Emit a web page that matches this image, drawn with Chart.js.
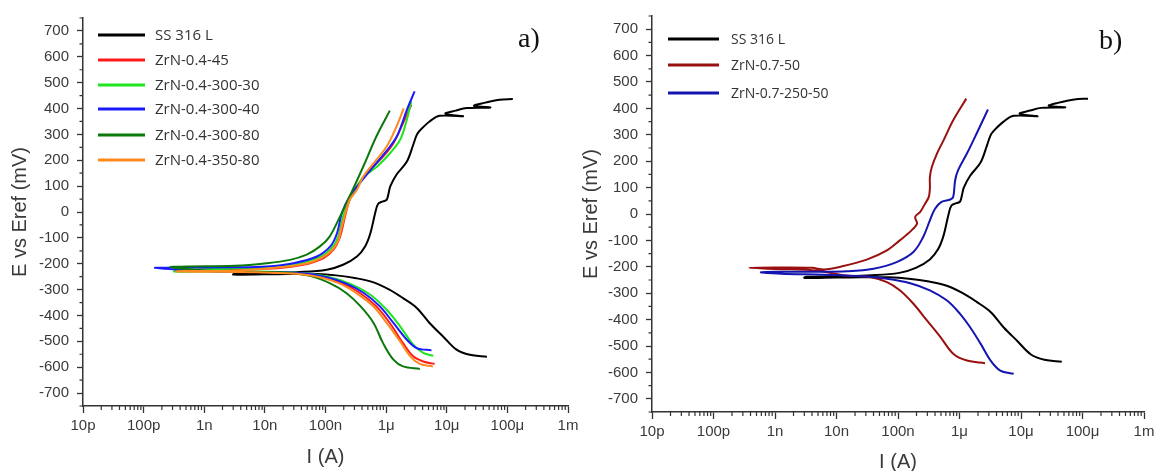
<!DOCTYPE html>
<html>
<head>
<meta charset="utf-8">
<script src="https://cdn.jsdelivr.net/npm/chart.js@4.4.1/dist/chart.umd.min.js"></script>
<style>
  html, body { margin: 0; padding: 0; background: #fff; overflow: hidden; width: 1157px; height: 471px; }
  .panel { position: absolute; top: 0; }
  #pa { left: 0; width: 600px; height: 471px; }
  #pb { left: 578px; width: 579px; height: 476px; }
  .tag { position: absolute; font-family: "Liberation Serif", serif; font-size: 28px; color: #111; line-height: 1; }
</style>
</head>
<body>
<div class="panel" id="pa"><canvas id="chartA"></canvas></div>
<div class="panel" id="pb"><canvas id="chartB"></canvas></div>
<div class="tag" style="left:518px;top:24px">a)</div>
<div class="tag" style="left:1099px;top:26px">b)</div>
<script>
// axis ticks
const decadeValues = [1e-11, 1e-10, 1e-9, 1e-8, 1e-7, 1e-6, 1e-5, 1e-4, 1e-3];
const decadeLabels = ['10p', '100p', '1n', '10n', '100n', '1μ', '10μ', '100μ', '1m'];
const minorMultipliers = [2, 3, 4, 5, 6, 7, 8, 9];
const yLabelTicks = [-700, -600, -500, -400, -300, -200, -100, 0, 100, 200, 300, 400, 500, 600, 700];
const yMinorTicks = [-750, -650, -550, -450, -350, -250, -150, -50, 50, 150, 250, 350, 450, 550, 650, 750];

// current (A) and potential (mV), cathodic end -> Ecorr -> anodic end
const ss316_I = [4.6e-5, 2.4e-5, 1.45e-5, 8.7e-6, 5.2e-6, 3.2e-6, 1.9e-6, 1.15e-6, 6.2e-7, 3.2e-7, 1.5e-7, 7.1e-8, 2.5e-8, 1.0e-8, 3.0e-9,
  3.2e-9, 1.0e-8, 3.8e-8, 1.05e-7, 1.95e-7, 3.3e-7, 4.5e-7, 5.5e-7, 6.6e-7, 7.4e-7, 8.9e-7, 1.02e-6, 1.1e-6, 1.17e-6, 1.48e-6,
  2.2e-6, 2.8e-6, 3.2e-6, 3.6e-6, 5.2e-6, 7.6e-6, 1.86e-5, 9.5e-6, 1.41e-5, 2.14e-5, 5.25e-5, 2.82e-5, 3.98e-5, 7.4e-5, 1.23e-4];
const ss316_E = [-560, -552, -532, -481, -429, -371, -333, -301, -272, -256, -245, -240, -240, -241, -242,
  -238, -236, -232, -223, -204, -172, -133, -82, -4, 32, 41, 47, 73, 99, 144,
  195, 260, 298, 315, 350, 372, 370, 380, 392, 402, 404, 410, 421, 434, 437];

const zr045_I = [6.3e-6, 4.1e-6, 2.8e-6, 1.9e-6, 1.15e-6, 6.9e-7, 3.7e-7, 1.95e-7, 9.1e-8, 3.8e-8, 1.0e-8, 2.5e-9, 8.0e-10,
  8.0e-10, 3.2e-9, 1.6e-8, 4.3e-8, 9.3e-8, 1.35e-7, 1.74e-7, 2.1e-7, 2.5e-7, 3.3e-7, 5.4e-7, 8.9e-7, 1.32e-6, 1.9e-6, 2.6e-6];
const zr045_E = [-587, -578, -558, -507, -429, -365, -313, -277, -252, -239, -233, -230, -226,
  -222, -221, -217, -204, -178, -146, -95, -17, 47, 99, 163, 214, 266, 343, 414];

const zr0430030_I = [6.0e-6, 4.1e-6, 2.8e-6, 1.7e-6, 1.02e-6, 5.5e-7, 2.5e-7, 1.05e-7, 3.8e-8, 1.0e-8, 1.6e-9, 3.2e-10,
  5.0e-10, 3.2e-9, 1.23e-8, 3.4e-8, 8.1e-8, 1.26e-7, 1.62e-7, 1.95e-7, 2.5e-7, 3.3e-7, 4.3e-7, 7.1e-7, 1.17e-6, 1.7e-6, 2.1e-6, 2.6e-6];
const zr0430030_E = [-556, -545, -513, -442, -378, -320, -277, -249, -236, -231, -230, -230,
  -224, -218, -213, -200, -174, -140, -95, -17, 47, 99, 137, 176, 228, 279, 340, 427];

const zr0430040_I = [5.6e-6, 3.2e-6, 2.2e-6, 1.32e-6, 7.9e-7, 4.3e-7, 2.2e-7, 1.05e-7, 3.8e-8, 1.0e-8, 1.0e-9, 1.55e-10,
  3.2e-10, 3.2e-9, 1.07e-8, 2.95e-8, 7.2e-8, 1.2e-7, 1.55e-7, 1.86e-7, 2.5e-7, 3.7e-7, 6.2e-7, 1.05e-6, 1.5e-6, 1.82e-6, 2.2e-6, 2.95e-6];
const zr0430040_E = [-535, -526, -494, -429, -365, -313, -277, -252, -236, -232, -228, -216,
  -215, -214, -211, -198, -172, -133, -82, -4, 60, 112, 176, 240, 292, 340, 395, 466];

const zr0430080_I = [3.6e-6, 1.9e-6, 1.32e-6, 8.9e-7, 6.2e-7, 3.8e-7, 2.2e-7, 1.17e-7, 5.5e-8, 2.0e-8, 5.0e-9, 1.0e-9, 2.8e-10,
  5.0e-10, 3.2e-9, 1.07e-8, 2.6e-8, 4.9e-8, 8.1e-8, 1.17e-7, 1.74e-7, 2.5e-7, 4.2e-7, 6.9e-7, 1.15e-6];
const zr0430080_E = [-607, -597, -571, -507, -429, -365, -313, -275, -247, -234, -230, -226, -213,
  -211, -208, -198, -185, -165, -133, -95, -17, 60, 176, 292, 392];

const zr0435080_I = [5.9e-6, 3.6e-6, 2.5e-6, 1.7e-6, 1.02e-6, 6.2e-7, 3.2e-7, 1.74e-7, 8.1e-8, 3.4e-8, 1.0e-8, 1.6e-9, 3.5e-10,
  6.3e-10, 3.2e-9, 2.0e-8, 5.6e-8, 1.05e-7, 1.55e-7, 1.86e-7, 2.2e-7, 2.5e-7, 3.3e-7, 4.2e-7, 6.9e-7, 1.02e-6, 1.48e-6, 1.95e-6];
const zr0435080_E = [-597, -587, -558, -500, -429, -365, -313, -277, -252, -239, -234, -231, -230,
  -228, -227, -213, -195, -165, -120, -56, 8, 47, 86, 137, 202, 253, 330, 401];

const zr0750_I = [2.6e-6, 1.32e-6, 7.9e-7, 4.9e-7, 2.95e-7, 1.78e-7, 1.07e-7, 6.6e-8, 3.5e-8, 1.26e-8, 5.0e-9, 1.0e-9, 3.8e-10,
  1.0e-9, 4.0e-9, 6.3e-9, 1.15e-8, 3.1e-8, 6.6e-8, 1.07e-7, 1.66e-7, 2.04e-7, 1.9e-7, 2.3e-7, 2.75e-7, 3.16e-7, 3.3e-7, 3.3e-7,
  3.55e-7, 4.3e-7, 5.5e-7, 7.9e-7, 1.29e-6];
const zr0750_E = [-565, -555, -529, -466, -403, -340, -289, -258, -239, -232, -215, -208, -204,
  -203, -204, -210, -200, -173, -138, -100, -62, -36, -11, 8, 39, 64, 96, 140,
  178, 229, 279, 355, 437];

const zr0725050_I = [7.6e-6, 4.6e-6, 3.2e-6, 2.2e-6, 1.48e-6, 1.02e-6, 6.2e-7, 3.3e-7, 1.58e-7, 6.6e-8, 2.75e-8, 6.3e-9, 1.26e-9, 5.9e-10,
  1.0e-9, 5.0e-9, 1.48e-8, 4.0e-8, 9.5e-8, 1.78e-7, 2.57e-7, 3.3e-7, 4.0e-7, 5.1e-7, 7.1e-7, 7.9e-7, 8.5e-7, 9.5e-7, 1.32e-6, 1.9e-6, 2.9e-6];
const zr0725050_E = [-605, -593, -555, -491, -428, -378, -327, -289, -262, -245, -236, -230, -226, -221,
  -219, -219, -217, -207, -182, -144, -87, -24, 20, 46, 55, 64, 128, 166, 229, 305, 396];

const seriesA = [
  { label: 'SS 316 L', I: ss316_I, E: ss316_E, color: '#000000' },
  { label: 'ZrN-0.4-45', I: zr045_I, E: zr045_E, color: '#ff1a1a' },
  { label: 'ZrN-0.4-300-30', I: zr0430030_I, E: zr0430030_E, color: '#1ee61e' },
  { label: 'ZrN-0.4-300-40', I: zr0430040_I, E: zr0430040_E, color: '#1a1aff' },
  { label: 'ZrN-0.4-300-80', I: zr0430080_I, E: zr0430080_E, color: '#0b780b' },
  { label: 'ZrN-0.4-350-80', I: zr0435080_I, E: zr0435080_E, color: '#ff8a1f' }
];
const seriesB = [
  { label: 'SS 316 L', I: ss316_I, E: ss316_E, color: '#000000' },
  { label: 'ZrN-0.7-50', I: zr0750_I, E: zr0750_E, color: '#9a1010' },
  { label: 'ZrN-0.7-250-50', I: zr0725050_I, E: zr0725050_E, color: '#1414b0' }
];

const axisColor = '#333333';
const labelColor = '#3a3a3a';

const isDecade = v => decadeValues.some(d => Math.abs(v / d - 1) < 1e-6);
const isLabelY = v => yLabelTicks.includes(v);

// short minor ticks, drawn from the scales
const minorTickPlugin = {
  id: 'minorTicks',
  afterDraw(chart) {
    const ctx = chart.ctx, xs = chart.scales.x, ys = chart.scales.y;
    ctx.save();
    ctx.strokeStyle = axisColor;
    ctx.lineWidth = 1.2;
    ctx.beginPath();
    xs.ticks.forEach(t => {
      if (!isDecade(t.value)) {
        const px = xs.getPixelForValue(t.value);
        ctx.moveTo(px, xs.top);
        ctx.lineTo(px, xs.top + 4);
      }
    });
    ys.ticks.forEach(t => {
      if (!isLabelY(t.value)) {
        const py = ys.getPixelForValue(t.value);
        ctx.moveTo(ys.right - 3.5, py);
        ctx.lineTo(ys.right, py);
      }
    });
    ctx.stroke();
    ctx.restore();
  }
};

// legend inside the plot, as in the figure
const insideLegendPlugin = {
  id: 'insideLegend',
  afterDraw(chart, args, opts) {
    const ctx = chart.ctx;
    ctx.save();
    ctx.font = opts.font;
    ctx.textBaseline = 'middle';
    chart.data.datasets.forEach((ds, i) => {
      const y = opts.rows[i];
      ctx.strokeStyle = ds.borderColor;
      ctx.lineWidth = 3;
      ctx.beginPath();
      ctx.moveTo(opts.x0, y);
      ctx.lineTo(opts.x1, y);
      ctx.stroke();
      ctx.fillStyle = '#333';
      ctx.fillText(ds.label, opts.textX, y + 1);
    });
    ctx.restore();
  }
};

function buildChart(id, series, cfg) {
  return new Chart(document.getElementById(id), {
    type: 'scatter',
    data: {
      datasets: series.map((s, i) => ({
        label: s.label,
        data: s.I.map((v, k) => ({ x: v, y: s.E[k] })),
        borderColor: s.color,
        backgroundColor: s.color,
        showLine: true,
        pointRadius: 0,
        borderWidth: 2,
        tension: 0.35,
        order: -i
      }))
    },
    options: {
      responsive: true,
      maintainAspectRatio: false,
      animation: false,
      events: [],
      layout: { padding: { left: 0, right: cfg.padRight, top: cfg.padTop, bottom: 0 } },
      plugins: {
        legend: { display: false },
        tooltip: { enabled: false },
        insideLegend: cfg.legend
      },
      scales: {
        x: {
          type: 'logarithmic',
          min: 1e-11,
          max: 1e-3,
          afterBuildTicks(scale) {
            const ticks = [];
            decadeValues.forEach((d, i) => {
              ticks.push({ value: d });
              if (i < decadeValues.length - 1) minorMultipliers.forEach(m => ticks.push({ value: d * m }));
            });
            scale.ticks = ticks;
          },
          afterFit(scale) {
            scale.height = cfg.xHeight;
            scale.paddingLeft = 0;
            scale.paddingRight = 0;
          },
          ticks: {
            autoSkip: false,
            maxRotation: 0,
            padding: 4,
            color: labelColor,
            font: { family: '"Liberation Sans", Arial, sans-serif', size: 15 },
            callback(value) {
              const i = decadeValues.findIndex(d => Math.abs(value / d - 1) < 1e-6);
              return i >= 0 ? decadeLabels[i] : '';
            }
          },
          grid: {
            drawOnChartArea: false,
            drawTicks: true,
            tickLength: 7,
            tickWidth: 1.3,
            tickColor: ctx => (ctx.tick && isDecade(ctx.tick.value)) ? axisColor : 'rgba(0,0,0,0)'
          },
          border: { display: true, color: axisColor, width: 1.5 },
          title: {
            display: true,
            text: 'I (A)',
            color: labelColor,
            font: { family: '"Liberation Sans", Arial, sans-serif', size: 20 },
            padding: { top: 0, bottom: 2 }
          }
        },
        y: {
          type: 'linear',
          min: -750,
          max: 750,
          afterBuildTicks(scale) {
            scale.ticks = yMinorTicks.concat(yLabelTicks).sort((a, b) => a - b).map(v => ({ value: v }));
          },
          afterFit(scale) {
            scale.width = cfg.yWidth;
            scale.paddingTop = 0;
            scale.paddingBottom = 0;
          },
          ticks: {
            autoSkip: false,
            padding: 8,
            color: labelColor,
            font: { family: '"Liberation Sans", Arial, sans-serif', size: 15 },
            callback: value => isLabelY(value) ? String(value) : ''
          },
          grid: {
            drawOnChartArea: false,
            drawTicks: true,
            tickLength: 6,
            tickWidth: 1.3,
            tickColor: ctx => (ctx.tick && isLabelY(ctx.tick.value)) ? axisColor : 'rgba(0,0,0,0)'
          },
          border: { display: true, color: axisColor, width: 1.5 },
          title: {
            display: true,
            text: 'E vs Eref (mV)',
            color: labelColor,
            font: { family: '"Liberation Sans", Arial, sans-serif', size: 20 },
            padding: { top: cfg.yTitlePad, bottom: 0 }
          }
        }
      }
    },
    plugins: [minorTickPlugin, insideLegendPlugin]
  });
}

buildChart('chartA', seriesA, {
  yWidth: 83, xHeight: 65, padTop: 18, padRight: 32, yTitlePad: 8,
  legend: { x0: 98, x1: 145, textX: 155, rows: [35, 60, 85, 109, 135, 160], font: '15px "Open Sans", sans-serif' }
});
buildChart('chartB', seriesB, {
  yWidth: 74, xHeight: 64, padTop: 16, padRight: 13, yTitlePad: 1,
  legend: { x0: 90, x1: 141, textX: 153, rows: [39, 65, 93], font: '14px "Open Sans", sans-serif' }
});
</script>
</body>
</html>
